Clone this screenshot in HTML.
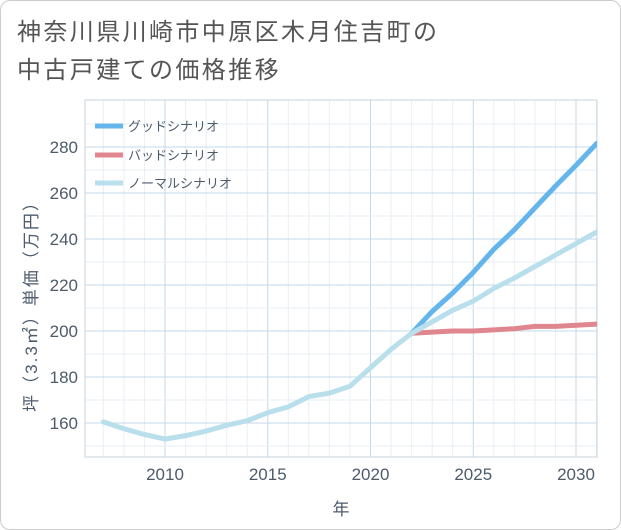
<!DOCTYPE html>
<html><head><meta charset="utf-8"><style>
body{margin:0;background:#fff;}
#wrap{position:relative;width:619px;height:528px;border:1px solid #ccc;border-radius:10px;background:#fff;overflow:hidden;}
.t{font-family:"Liberation Sans","Noto Sans CJK JP",sans-serif;}
</style></head><body>
<div id="wrap">
<div class="t" style="position:absolute;left:16px;top:13px;font-size:24px;letter-spacing:2.4px;line-height:38px;color:#555;">神奈川県川崎市中原区木月住吉町の<br>中古戸建ての価格推移</div>
<svg id="c" width="621" height="530" style="position:absolute;left:-1px;top:-1px"></svg>
</div>
<script>
const years=[2007,2008,2009,2010,2011,2012,2013,2014,2015,2016,2017,2018,2019,2020,2021,2022,2023,2024,2025,2026,2027,2028,2029,2030,2031];
const normal=[160.5,157.5,155,153,154.5,156.5,159,161,164.5,167,171.5,173,176,184,192,199,204,209,213,218.5,223,228,233,238,243];
const fYears=[2022,2023,2024,2025,2026,2027,2028,2029,2030,2031];
const good=[199,208.5,216.5,225.5,235.5,244,253.5,263,272,281.5];
const bad=[199,199.5,200,200,200.5,201,202,202,202.5,203];
const xTicks=[2010,2015,2020,2025,2030];
const yTicks=[160,180,200,220,240,260,280];
const L=85,R=597,T=100,B=457;
const x=v=>165+(v-2010)*20.55;
const y=v=>423-(v-160)*2.3;
const svg=document.getElementById('c');const NS='http://www.w3.org/2000/svg';
function el(tag,attrs,name){const e=document.createElementNS(NS,tag);for(const k in attrs)e.setAttribute(k,attrs[k]);


svg.appendChild(e);return e;}
for(let yr=2007;yr<=2031;yr++){el('line',{x1:x(yr),x2:x(yr),y1:T,y2:B,stroke:yr%5==0?'#c6d8e8':'#e8eff6','stroke-width':1},'x-grid-line');}
for(let v=150;v<=290;v+=10){if(y(v)<T||y(v)>B)continue;el('line',{x1:L,x2:R,y1:y(v),y2:y(v),stroke:v%20==0?'#c6d8e8':'#e8eff6','stroke-width':1},'y-grid-line');}
el('rect',{x:L,y:T,width:R-L,height:B-T,fill:'none',stroke:'#c8d3de'},'plot-border');
xTicks.forEach(v=>{const t=el('text',{x:x(v),y:480,'text-anchor':'middle','font-size':17,fill:'#4d5b6b',class:'t'},'x-tick-label');t.textContent=v;});
yTicks.forEach(v=>{const t=el('text',{x:78,y:y(v)+6,'text-anchor':'end','font-size':17,fill:'#4d5b6b',class:'t'},'y-tick-label');t.textContent=v;});
const xt=el('text',{x:341,y:515,'text-anchor':'middle','font-size':17,fill:'#4d5b6b',class:'t'},'x-axis-title');xt.textContent='年';
const yt=el('text',{x:0,y:0,'text-anchor':'middle','font-size':17,'letter-spacing':2,fill:'#4d5b6b',class:'t',transform:'translate(37,302) rotate(-90)'},'y-axis-title');yt.textContent='坪（3.3㎡）単価（万円）';
function line(xs,vs,c,name){el('polyline',{points:xs.map((a,i)=>x(a)+','+y(vs[i])).join(' '),fill:'none',stroke:c,'stroke-width':5,'stroke-linejoin':'round','stroke-linecap':'round'},name);}
const clip=el('clipPath',{id:'cp'},'clip');const cr=document.createElementNS(NS,'rect');cr.setAttribute('x',L);cr.setAttribute('y',T);cr.setAttribute('width',R-L);cr.setAttribute('height',B-T);clip.appendChild(cr);
line(fYears,bad,'#e0868e','bad-scenario-line');
line(fYears,good,'#63b5ec','good-scenario-line');
line(years,normal,'#b9dfec','normal-scenario-line');
svg.querySelectorAll('polyline').forEach(p=>p.setAttribute('clip-path','url(#cp)'));
const leg=[['グッドシナリオ','#63b5ec',126],['バッドシナリオ','#e0868e',155],['ノーマルシナリオ','#b9dfec',183]];
leg.forEach(l=>{el('line',{x1:95,x2:123,y1:l[2],y2:l[2],stroke:l[1],'stroke-width':5},'legend-swatch');
const t=el('text',{x:128,y:l[2]+5,'font-size':13,fill:'#4d5b6b',class:'t'},'legend-entry');t.textContent=l[0];});
</script>
</body></html>
